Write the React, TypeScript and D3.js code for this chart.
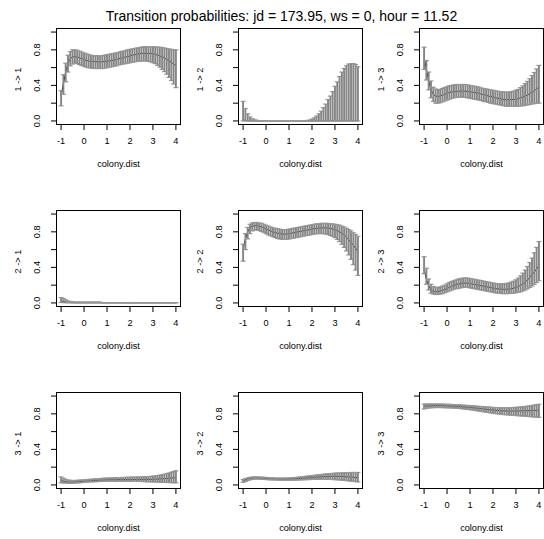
import React from "react";
import * as d3 from "d3";

const titleText = "Transition probabilities: jd = 173.95, ws = 0, hour = 11.52";
const xLabel = "colony.dist";

const colonyDist = [
  -1.0, -0.9, -0.8, -0.7, -0.6, -0.5, -0.4, -0.3, -0.2, -0.1,
  0.0, 0.1, 0.2, 0.3, 0.4, 0.5, 0.6, 0.7, 0.8, 0.9,
  1.0, 1.1, 1.2, 1.3, 1.4, 1.5, 1.6, 1.7, 1.8, 1.9,
  2.0, 2.1, 2.2, 2.3, 2.4, 2.5, 2.6, 2.7, 2.8, 2.9,
  3.0, 3.1, 3.2, 3.3, 3.4, 3.5, 3.6, 3.7, 3.8, 3.9, 4.0,
];

const xTicks = [-1, 0, 1, 2, 3, 4];
const yTicks = [0, 0.2, 0.4, 0.6, 0.8, 1.0];
const yTickLabels = ["0.0", "", "0.4", "", "0.8", ""];

// 1 -> 1
const p11Mean = [0.28,0.42,0.55,0.65,0.70,0.72,0.725,0.72,0.71,0.70,0.69,0.68,0.675,0.67,0.67,0.665,0.665,0.665,0.665,0.67,0.67,0.675,0.68,0.685,0.69,0.70,0.705,0.71,0.72,0.725,0.73,0.74,0.745,0.75,0.755,0.76,0.76,0.76,0.76,0.76,0.755,0.75,0.74,0.73,0.72,0.71,0.69,0.68,0.66,0.64,0.62];
const p11Lower = [0.17,0.30,0.44,0.55,0.62,0.64,0.65,0.645,0.635,0.625,0.615,0.605,0.60,0.595,0.59,0.59,0.59,0.59,0.59,0.595,0.60,0.605,0.61,0.615,0.62,0.63,0.635,0.64,0.645,0.65,0.655,0.66,0.665,0.67,0.67,0.675,0.675,0.675,0.67,0.665,0.655,0.645,0.625,0.605,0.58,0.555,0.525,0.49,0.455,0.415,0.375];
const p11Upper = [0.34,0.52,0.65,0.74,0.78,0.80,0.80,0.795,0.785,0.775,0.765,0.755,0.745,0.74,0.735,0.735,0.735,0.735,0.735,0.74,0.745,0.75,0.755,0.76,0.765,0.77,0.78,0.785,0.79,0.80,0.805,0.81,0.815,0.82,0.825,0.83,0.835,0.835,0.835,0.835,0.835,0.835,0.83,0.83,0.825,0.82,0.815,0.81,0.805,0.80,0.80];

// 1 -> 2
const p12Mean = [0.01,0.006,0.003,0.002,0.001,0.001,0.001,0.001,0.001,0.001,0.001,0.001,0.001,0.001,0.001,0.001,0.001,0.001,0.001,0.001,0.001,0.001,0.001,0.001,0.001,0.001,0.001,0.001,0.001,0.001,0.001,0.001,0.001,0.001,0.001,0.002,0.002,0.002,0.002,0.002,0.002,0.003,0.003,0.003,0.003,0.003,0.003,0.003,0.003,0.003,0.003];
const p12Lower = [0.001,0.001,0.0,0.0,0.0,0.0,0.0,0.0,0.0,0.0,0.0,0.0,0.0,0.0,0.0,0.0,0.0,0.0,0.0,0.0,0.0,0.0,0.0,0.0,0.0,0.0,0.0,0.0,0.0,0.0,0.0,0.0,0.0,0.0,0.0,0.0,0.0,0.0,0.0,0.0,0.0,0.0,0.0,0.0,0.0,0.0,0.0,0.0,0.0,0.0,0.0];
const p12Upper = [0.22,0.14,0.08,0.045,0.025,0.013,0.007,0.004,0.002,0.002,0.002,0.002,0.002,0.002,0.002,0.002,0.002,0.002,0.002,0.002,0.002,0.002,0.002,0.002,0.002,0.002,0.002,0.003,0.005,0.01,0.02,0.035,0.055,0.08,0.11,0.15,0.19,0.24,0.28,0.33,0.39,0.44,0.50,0.55,0.59,0.62,0.64,0.645,0.645,0.635,0.61];

// 1 -> 3
const p13Mean = [0.72,0.58,0.45,0.35,0.30,0.28,0.275,0.28,0.29,0.30,0.31,0.32,0.325,0.33,0.33,0.335,0.335,0.335,0.335,0.33,0.33,0.325,0.32,0.315,0.31,0.30,0.295,0.29,0.28,0.275,0.27,0.26,0.255,0.25,0.245,0.24,0.24,0.24,0.24,0.24,0.245,0.25,0.26,0.27,0.28,0.29,0.31,0.32,0.34,0.36,0.38];
const p13Lower = [0.58,0.46,0.35,0.26,0.22,0.20,0.20,0.205,0.215,0.225,0.235,0.245,0.255,0.26,0.265,0.265,0.265,0.265,0.265,0.26,0.255,0.25,0.245,0.24,0.235,0.23,0.22,0.215,0.21,0.20,0.195,0.19,0.185,0.18,0.175,0.17,0.165,0.165,0.165,0.165,0.165,0.165,0.17,0.17,0.175,0.18,0.185,0.19,0.195,0.20,0.20];
const p13Upper = [0.83,0.68,0.55,0.45,0.38,0.36,0.35,0.355,0.365,0.375,0.385,0.395,0.40,0.405,0.41,0.41,0.41,0.41,0.41,0.405,0.40,0.395,0.39,0.385,0.38,0.37,0.365,0.36,0.355,0.35,0.345,0.34,0.335,0.33,0.33,0.325,0.325,0.325,0.33,0.335,0.345,0.355,0.375,0.395,0.42,0.445,0.475,0.51,0.545,0.585,0.625];

// 2 -> 1
const p21Mean = [0.02,0.015,0.01,0.007,0.005,0.004,0.003,0.003,0.003,0.003,0.003,0.003,0.003,0.003,0.003,0.003,0.003,0.003,0.002,0.002,0.002,0.002,0.002,0.002,0.002,0.002,0.002,0.002,0.002,0.002,0.002,0.002,0.002,0.002,0.002,0.002,0.002,0.002,0.002,0.002,0.002,0.002,0.002,0.002,0.002,0.002,0.002,0.002,0.002,0.002,0.002];
const p21Lower = [0.005,0.004,0.003,0.002,0.002,0.001,0.001,0.001,0.001,0.001,0.001,0.001,0.001,0.001,0.001,0.001,0.001,0.001,0.001,0.001,0.001,0.001,0.001,0.001,0.001,0.001,0.001,0.001,0.001,0.001,0.001,0.001,0.001,0.001,0.001,0.001,0.001,0.001,0.001,0.001,0.001,0.001,0.001,0.001,0.001,0.001,0.001,0.001,0.001,0.001,0.001];
const p21Upper = [0.06,0.05,0.035,0.022,0.016,0.013,0.01,0.01,0.01,0.01,0.01,0.01,0.01,0.01,0.01,0.01,0.01,0.01,0.004,0.004,0.004,0.004,0.004,0.004,0.004,0.004,0.004,0.004,0.003,0.003,0.003,0.003,0.003,0.003,0.003,0.003,0.003,0.003,0.003,0.004,0.004,0.004,0.004,0.004,0.004,0.004,0.004,0.004,0.004,0.004,0.004];

// 2 -> 2
const p22Mean = [0.60,0.72,0.80,0.845,0.865,0.87,0.87,0.865,0.855,0.845,0.835,0.82,0.81,0.80,0.79,0.785,0.78,0.775,0.775,0.775,0.78,0.785,0.79,0.795,0.80,0.805,0.81,0.815,0.82,0.825,0.83,0.835,0.84,0.84,0.845,0.845,0.845,0.84,0.84,0.83,0.825,0.815,0.80,0.785,0.765,0.74,0.71,0.68,0.65,0.615,0.58];
const p22Lower = [0.47,0.60,0.72,0.78,0.81,0.82,0.82,0.815,0.805,0.795,0.78,0.765,0.755,0.745,0.735,0.725,0.72,0.715,0.715,0.715,0.72,0.725,0.73,0.735,0.74,0.745,0.75,0.755,0.76,0.765,0.77,0.775,0.78,0.78,0.78,0.78,0.775,0.77,0.76,0.75,0.735,0.715,0.69,0.66,0.625,0.585,0.54,0.49,0.43,0.37,0.31];
const p22Upper = [0.66,0.78,0.85,0.885,0.90,0.905,0.905,0.90,0.895,0.885,0.875,0.865,0.855,0.845,0.84,0.835,0.83,0.825,0.825,0.825,0.83,0.835,0.84,0.845,0.85,0.855,0.86,0.865,0.87,0.875,0.88,0.885,0.89,0.89,0.895,0.895,0.895,0.895,0.89,0.89,0.885,0.88,0.875,0.865,0.855,0.84,0.825,0.81,0.79,0.77,0.75];

// 2 -> 3
const p23Mean = [0.38,0.265,0.19,0.148,0.13,0.126,0.127,0.132,0.142,0.152,0.162,0.177,0.187,0.197,0.207,0.212,0.217,0.222,0.223,0.223,0.218,0.213,0.208,0.203,0.198,0.193,0.188,0.183,0.178,0.173,0.168,0.163,0.158,0.158,0.153,0.153,0.153,0.158,0.158,0.168,0.173,0.183,0.198,0.213,0.233,0.258,0.288,0.318,0.348,0.383,0.418];
const p23Lower = [0.33,0.21,0.145,0.11,0.10,0.095,0.095,0.10,0.105,0.115,0.125,0.135,0.145,0.155,0.16,0.165,0.17,0.175,0.175,0.175,0.17,0.165,0.16,0.155,0.15,0.145,0.14,0.135,0.13,0.125,0.12,0.115,0.11,0.11,0.105,0.105,0.105,0.105,0.11,0.11,0.115,0.12,0.125,0.135,0.145,0.16,0.175,0.19,0.21,0.23,0.25];
const p23Upper = [0.52,0.39,0.27,0.21,0.185,0.175,0.175,0.18,0.19,0.20,0.215,0.23,0.24,0.25,0.26,0.27,0.275,0.28,0.28,0.28,0.275,0.27,0.265,0.26,0.255,0.25,0.245,0.24,0.235,0.23,0.225,0.22,0.215,0.215,0.215,0.215,0.22,0.225,0.235,0.245,0.26,0.28,0.305,0.335,0.37,0.41,0.455,0.505,0.565,0.625,0.69];

// 3 -> 1
const p31Mean = [0.05,0.042,0.036,0.033,0.032,0.032,0.033,0.035,0.037,0.039,0.041,0.043,0.045,0.047,0.049,0.051,0.053,0.054,0.055,0.056,0.057,0.058,0.059,0.059,0.06,0.06,0.061,0.061,0.062,0.062,0.062,0.062,0.062,0.062,0.062,0.062,0.062,0.062,0.062,0.063,0.064,0.065,0.066,0.067,0.069,0.071,0.073,0.075,0.077,0.08,0.083];
const p31Lower = [0.025,0.022,0.02,0.019,0.019,0.02,0.021,0.023,0.025,0.027,0.029,0.031,0.033,0.035,0.036,0.037,0.038,0.039,0.04,0.041,0.041,0.042,0.042,0.042,0.042,0.042,0.042,0.042,0.042,0.042,0.042,0.041,0.041,0.04,0.04,0.039,0.038,0.037,0.036,0.035,0.034,0.033,0.032,0.031,0.03,0.029,0.028,0.027,0.026,0.025,0.024];
const p31Upper = [0.09,0.075,0.062,0.055,0.052,0.05,0.05,0.052,0.054,0.056,0.058,0.06,0.062,0.064,0.066,0.068,0.07,0.072,0.074,0.076,0.077,0.078,0.079,0.08,0.081,0.082,0.083,0.084,0.085,0.086,0.087,0.088,0.088,0.089,0.09,0.091,0.092,0.093,0.094,0.096,0.099,0.102,0.106,0.11,0.115,0.12,0.127,0.134,0.142,0.151,0.16];

// 3 -> 2
const p32Mean = [0.045,0.055,0.065,0.072,0.076,0.078,0.078,0.077,0.076,0.074,0.072,0.07,0.069,0.068,0.067,0.066,0.065,0.065,0.065,0.065,0.066,0.067,0.068,0.07,0.072,0.074,0.076,0.078,0.08,0.082,0.084,0.086,0.088,0.09,0.092,0.094,0.095,0.096,0.097,0.097,0.097,0.097,0.096,0.095,0.094,0.092,0.09,0.088,0.086,0.084,0.082];
const p32Lower = [0.03,0.04,0.05,0.058,0.063,0.066,0.067,0.066,0.065,0.063,0.061,0.059,0.058,0.057,0.056,0.055,0.054,0.054,0.053,0.053,0.053,0.054,0.054,0.055,0.056,0.057,0.058,0.059,0.06,0.061,0.062,0.063,0.064,0.064,0.064,0.064,0.064,0.063,0.062,0.061,0.06,0.058,0.056,0.054,0.052,0.049,0.046,0.043,0.04,0.037,0.034];
const p32Upper = [0.06,0.07,0.078,0.085,0.088,0.09,0.09,0.089,0.088,0.086,0.084,0.082,0.08,0.079,0.078,0.077,0.077,0.077,0.077,0.078,0.079,0.08,0.082,0.084,0.087,0.09,0.093,0.096,0.099,0.102,0.105,0.108,0.111,0.114,0.117,0.12,0.123,0.126,0.128,0.13,0.132,0.134,0.135,0.136,0.137,0.138,0.139,0.14,0.14,0.14,0.14];

// 3 -> 3
const p33Mean = [0.885,0.888,0.89,0.891,0.892,0.892,0.892,0.892,0.891,0.89,0.889,0.888,0.887,0.886,0.884,0.882,0.88,0.878,0.876,0.874,0.872,0.869,0.866,0.863,0.86,0.857,0.854,0.851,0.848,0.845,0.842,0.84,0.838,0.836,0.834,0.833,0.832,0.831,0.831,0.831,0.831,0.832,0.833,0.834,0.835,0.836,0.837,0.838,0.839,0.84,0.841];
const p33Lower = [0.855,0.862,0.866,0.868,0.87,0.871,0.871,0.871,0.87,0.869,0.868,0.867,0.866,0.865,0.863,0.861,0.859,0.856,0.853,0.85,0.847,0.843,0.839,0.835,0.831,0.827,0.823,0.819,0.815,0.811,0.807,0.803,0.8,0.797,0.794,0.791,0.789,0.787,0.785,0.783,0.781,0.779,0.777,0.775,0.773,0.771,0.769,0.767,0.765,0.763,0.76];
const p33Upper = [0.91,0.91,0.91,0.91,0.91,0.91,0.91,0.91,0.909,0.908,0.907,0.906,0.905,0.904,0.903,0.901,0.9,0.898,0.896,0.894,0.892,0.89,0.888,0.886,0.884,0.882,0.88,0.878,0.876,0.874,0.872,0.871,0.87,0.869,0.868,0.868,0.868,0.869,0.87,0.871,0.873,0.875,0.877,0.88,0.883,0.886,0.89,0.894,0.898,0.903,0.908];

const panelLabels = ["1 -> 1", "1 -> 2", "1 -> 3", "2 -> 1", "2 -> 2", "2 -> 3", "3 -> 1", "3 -> 2", "3 -> 3"];
const panelMeans = [p11Mean, p12Mean, p13Mean, p21Mean, p22Mean, p23Mean, p31Mean, p32Mean, p33Mean];
const panelLowers = [p11Lower, p12Lower, p13Lower, p21Lower, p22Lower, p23Lower, p31Lower, p32Lower, p33Lower];
const panelUppers = [p11Upper, p12Upper, p13Upper, p21Upper, p22Upper, p23Upper, p31Upper, p32Upper, p33Upper];

const FONT = "'Liberation Sans', Arial, Helvetica, sans-serif";
const W = 544;
const H = 539;
const BOX_W = 124;
const BOX_H = 96;
const COL_STEP = 181.7;
const ROW_STEP = 182;
const LEFT0 = 56;
const TOP0 = 27.5;
const GRAY = "#858585";
const CAP_GRAY = "#9a9a9a";
const CAP = 2.5;
const FS = 9.2;

function Panel({ idx }: { idx: number }) {
  const r = Math.floor(idx / 3);
  const c = idx % 3;
  const left = Math.round(LEFT0 + c * COL_STEP) + 0.5;
  const top = Math.round(TOP0 + r * ROW_STEP) + 0.5;
  const x = d3.scaleLinear().domain([-1.2, 4.2]).range([left, left + BOX_W]);
  const y = d3.scaleLinear().domain([-0.04, 1.04]).range([top + BOX_H, top]);
  const mean = panelMeans[idx];
  const lo = panelLowers[idx];
  const up = panelUppers[idx];
  const line = d3
    .line<number>()
    .x((_, i) => x(colonyDist[i]))
    .y((d) => y(d));
  const bottom = top + BOX_H;
  return (
    <g>
      <path d={line(mean) || ""} fill="none" stroke="#000" strokeWidth={1} />
      {colonyDist.map((xv, i) => {
        const px = x(xv);
        const yl = y(lo[i]);
        const yu = y(up[i]);
        return (
          <g key={i}>
            <line x1={px - CAP} x2={px + CAP} y1={yl} y2={yl} stroke={CAP_GRAY} strokeWidth={1.2} />
            <line x1={px - CAP} x2={px + CAP} y1={yu} y2={yu} stroke={CAP_GRAY} strokeWidth={1.2} />
            <line x1={px} x2={px} y1={yl} y2={yu} stroke={GRAY} strokeWidth={1.9} />
          </g>
        );
      })}
      <rect x={left} y={top} width={BOX_W} height={BOX_H} fill="none" stroke="#000" strokeWidth={1} />
      {xTicks.map((t) => (
        <g key={"xt" + t}>
          <line x1={x(t)} x2={x(t)} y1={bottom} y2={bottom + 5.5} stroke="#000" strokeWidth={1} />
          <text x={x(t)} y={bottom + 19.4} textAnchor="middle" fontSize={FS} fontFamily={FONT} fill="#000">
            {t}
          </text>
        </g>
      ))}
      {yTicks.map((t, k) => (
        <g key={"yt" + k}>
          <line x1={left - 5.5} x2={left} y1={y(t)} y2={y(t)} stroke="#000" strokeWidth={1} />
          {yTickLabels[k] ? (
            <text
              transform={`translate(${left - 16.5},${y(t)}) rotate(-90)`}
              textAnchor="middle"
              fontSize={FS}
              fontFamily={FONT}
              fill="#000"
            >
              {yTickLabels[k]}
            </text>
          ) : null}
        </g>
      ))}
      <text x={left + BOX_W / 2} y={bottom + 42.7} textAnchor="middle" fontSize={FS} fontFamily={FONT} fill="#000">
        {xLabel}
      </text>
      <text
        transform={`translate(${left - 35.3},${top + BOX_H / 2 + 3}) rotate(-90)`}
        textAnchor="middle"
        fontSize={FS}
        fontFamily={FONT}
        fill="#000"
      >
        {panelLabels[idx]}
      </text>
    </g>
  );
}

export default function App() {
  return (
    <svg
      width={W}
      height={H}
      viewBox={`0 0 ${W} ${H}`}
      style={{ position: "absolute", left: 0, top: 0, background: "#fff" }}
    >
      <rect x={0} y={0} width={W} height={H} fill="#fff" />
      <text x={281.5} y={20.5} textAnchor="middle" fontSize={14} fontFamily={FONT} fill="#000">
        {titleText}
      </text>
      {panelLabels.map((_, i) => (
        <Panel key={i} idx={i} />
      ))}
    </svg>
  );
}
